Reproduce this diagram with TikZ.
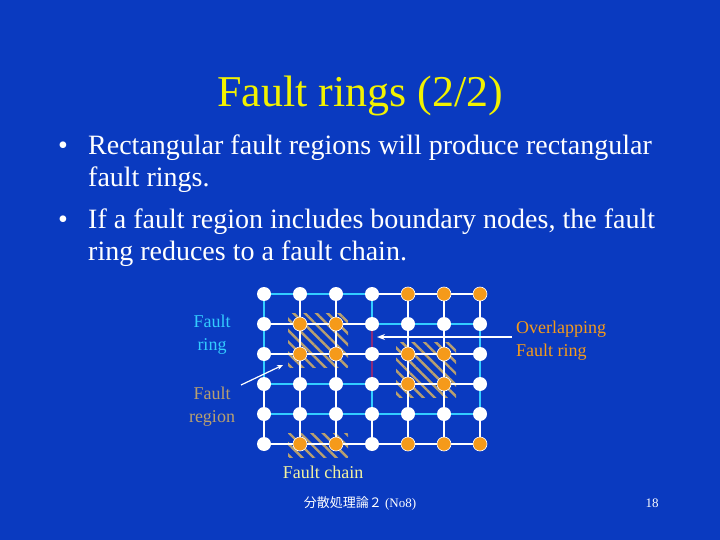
\documentclass[tikz,border=0pt]{standalone}
\usepackage{fontspec}
\setmainfont{Liberation Serif}
\newfontfamily\cjk{Noto Sans CJK JP}
\usetikzlibrary{patterns.meta,arrows.meta}
\definecolor{bg}{HTML}{0A3AC0}
\definecolor{ttl}{HTML}{F2F200}
\definecolor{ringc}{HTML}{33CCFF}
\definecolor{orng}{HTML}{F59A1A}
\definecolor{tanc}{HTML}{B8A070}
\definecolor{purp}{HTML}{8A2A7A}
\definecolor{chainc}{HTML}{F2F2A0}
\begin{document}
\begin{tikzpicture}[x=1pt,y=-1pt,
  wn/.style={circle,fill=white,minimum size=14pt,inner sep=0pt},
  on/.style={circle,fill=orng,draw=white,line width=0.6pt,minimum size=14pt,inner sep=0pt},
  wedge/.style={white,line width=1.2pt},
  redge/.style={ringc,line width=1.5pt},
  pedge/.style={purp,line width=1.5pt},
  hatch/.style={pattern={Lines[angle=-45,distance=8pt,line width=2.4pt]},pattern color=tanc},
  txt/.style={font=\fontsize{28}{32}\selectfont,text=white,align=left,anchor=west,inner sep=0pt},
  lab/.style={font=\fontsize{18}{24}\selectfont,align=center,inner sep=0pt}]
\fill[bg] (0,0) rectangle (720,540);
\useasboundingbox (0,0) rectangle (720,540);
\node[text=ttl,font=\fontsize{44}{48}\selectfont] (title) at (360,96) {Fault rings (2/2)};
\node[txt] (b1) at (58,148) {•};
\node[txt] (t1) at (88,164) {\begin{tabular}{@{}l@{}}Rectangular fault regions will produce rectangular\\fault rings.\end{tabular}};
\node[txt] (b2) at (58,222) {•};
\node[txt] (t2) at (88,238) {\begin{tabular}{@{}l@{}}If a fault region includes boundary nodes, the fault\\ring reduces to a fault chain.\end{tabular}};
% hatched regions
\path[hatch] (288,313) rectangle (348,367);
\path[hatch] (396,342) rectangle (456,397);
\path[hatch] (288,433) rectangle (348,457);
% nodes
\foreach \c in {0,...,6}{\foreach \r in {0,...,5}{
  \coordinate (p\c\r) at ({264+36*\c},{294+30*\r});}}
% white edges
\foreach \r in {0,...,5}{\foreach \c [evaluate=\c as \d using int(\c+1)] in {0,...,5}{\draw[wedge] (p\c\r) -- (p\d\r);}}
\foreach \c in {0,...,6}{\foreach \r [evaluate=\r as \s using int(\r+1)] in {0,...,4}{\draw[wedge] (p\c\r) -- (p\c\s);}}
% ring 1
\draw[redge] (p00) -- (p30) -- (p31);
\draw[redge] (p00) -- (p03) -- (p33);
% ring 2
\draw[redge] (p31) -- (p61) -- (p64) -- (p34) -- (p33);
% chain
\draw[redge] (p04) -- (p34);
% overlap
\draw[pedge] (p31) -- (p33);
\foreach \c/\r in {0/0,1/0,2/0,3/0,0/1,3/1,4/1,5/1,6/1,0/2,3/2,6/2,0/3,1/3,2/3,3/3,6/3,0/4,1/4,2/4,3/4,4/4,5/4,6/4,0/5,3/5}{\node[wn] (n\c\r) at (p\c\r) {};}
\foreach \c/\r in {4/0,5/0,6/0,1/1,2/1,1/2,2/2,4/2,5/2,4/3,5/3,1/5,2/5,4/5,5/5,6/5}{\node[on] (n\c\r) at (p\c\r) {};}
% labels
\node[lab,text=ringc] (lr) at (212,335) {Fault\\[-1pt]ring};
\node[lab,text=orng,align=left,anchor=west] (lo) at (516,341) {Overlapping\\[-1pt]Fault ring};
\node[lab,text=tanc] (lf) at (212,407) {Fault\\[-1pt]region};
\node[lab,text=chainc] (lc) at (323,472) {Fault chain};
\coordinate (a1) at (512,337);
\coordinate (a1e) at (377,337);
\draw[white,line width=1.5pt,-{Stealth[length=8pt,width=6pt]}] (a1) -- (a1e);
\coordinate (a2) at (241,385);
\coordinate (a2e) at (283,365);
\draw[white,line width=1.2pt,-{Stealth[length=6pt,width=5pt]}] (a2) -- (a2e);
\node[text=white,font=\fontsize{13}{15}\selectfont] (foot) at (360,503) {{\cjk 分散処理論２} (No8)};
\node[text=white,font=\fontsize{13}{15}\selectfont] (pg) at (652,503) {18};
\end{tikzpicture}
\end{document}
